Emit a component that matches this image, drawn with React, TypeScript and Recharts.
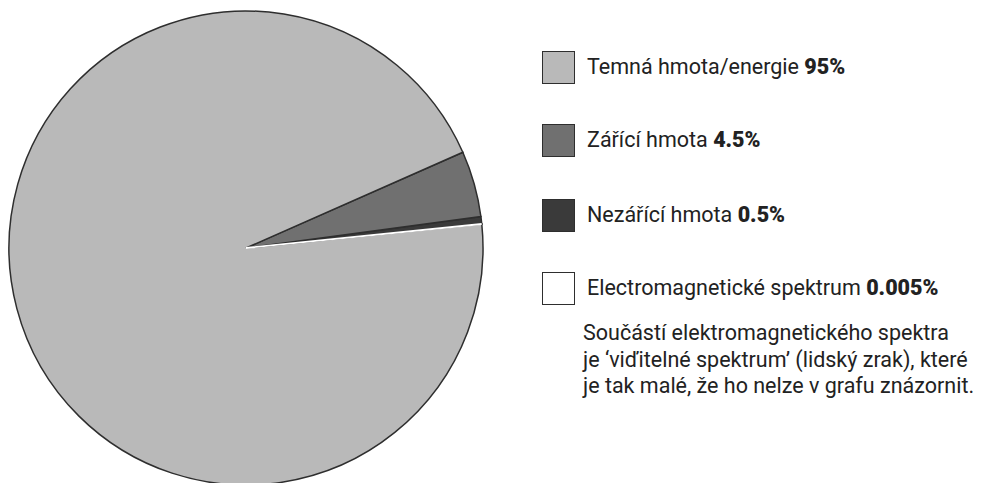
import React from "react";
import { PieChart, Pie, Cell } from "recharts";

// Data in angular drawing order (counter-clockwise from start angle)
const names = [
  "Electromagnetické spektrum",
  "Nezářící hmota",
  "Zářící hmota",
  "Temná hmota/energie",
];
const values = [0.005, 0.5, 4.5, 95];
const valueLabels = ["0.005%", "0.5%", "4.5%", "95%"];
const colors = ["#ffffff", "#3a3a3a", "#707070", "#b9b9b9"];

// Legend order (indices into arrays above)
const legendOrder = [3, 2, 1, 0];
const noteLines = [
  "Součástí elektromagnetického spektra",
  "je ‘viďitelné spektrum’ (lidský zrak), které",
  "je tak malé, že ho nelze v grafu znázornit.",
];

const data = names.map((n, i) => ({ name: n, value: values[i] }));

const FONT = "Roboto, 'Open Sans', sans-serif";

export default function App() {
  const legendTops = [51, 124, 199, 272];
  return (
    <div
      style={{
        position: "absolute",
        left: 0,
        top: 0,
        width: 992,
        height: 483,
        background: "#fff",
        overflow: "hidden",
        fontFamily: FONT,
      }}
    >
      <PieChart width={992} height={483} margin={{ top: 0, right: 0, bottom: 0, left: 0 }}>
        <Pie
          data={data}
          dataKey="value"
          nameKey="name"
          cx={246}
          cy={248}
          outerRadius={237}
          startAngle={5.8}
          endAngle={365.8}
          stroke="#2e2e2e"
          strokeWidth={1.5}
          isAnimationActive={false}
          label={false}
          labelLine={false}
        >
          {data.map((d, i) => (
            <Cell key={d.name} fill={colors[i]} stroke="#2e2e2e" />
          ))}
        </Pie>
        <Pie
          data={data}
          dataKey="value"
          nameKey="name"
          cx={246}
          cy={248}
          outerRadius={236}
          startAngle={5.8}
          endAngle={365.8}
          isAnimationActive={false}
          label={false}
          labelLine={false}
        >
          {data.map((d, i) => (
            <Cell
              key={d.name}
              fill={i === 0 ? colors[0] : "none"}
              stroke={i === 0 ? "#ffffff" : "none"}
              strokeWidth={i === 0 ? 1.8 : 0}
            />
          ))}
        </Pie>
      </PieChart>
      {legendOrder.map((idx, r) => (
        <div key={names[idx]}>
          <div
            style={{
              position: "absolute",
              left: 542,
              top: legendTops[r],
              width: 31,
              height: 31,
              background: colors[idx],
              border: "1.5px solid #2e2e2e",
            }}
          />
          <div
            style={{
              position: "absolute",
              left: 587,
              top: legendTops[r] + 3,
              fontSize: 21.5,
              lineHeight: "26px",
              color: "#222",
              whiteSpace: "nowrap",
            }}
          >
            {names[idx]} <b style={{ fontWeight: 900 }}>{valueLabels[idx]}</b>
          </div>
        </div>
      ))}
      <div
        style={{
          position: "absolute",
          left: 583,
          top: 320,
          fontSize: 21.5,
          lineHeight: "26.5px",
          color: "#222",
          whiteSpace: "nowrap",
        }}
      >
        {noteLines.map((l) => (
          <div key={l}>{l}</div>
        ))}
      </div>
    </div>
  );
}
